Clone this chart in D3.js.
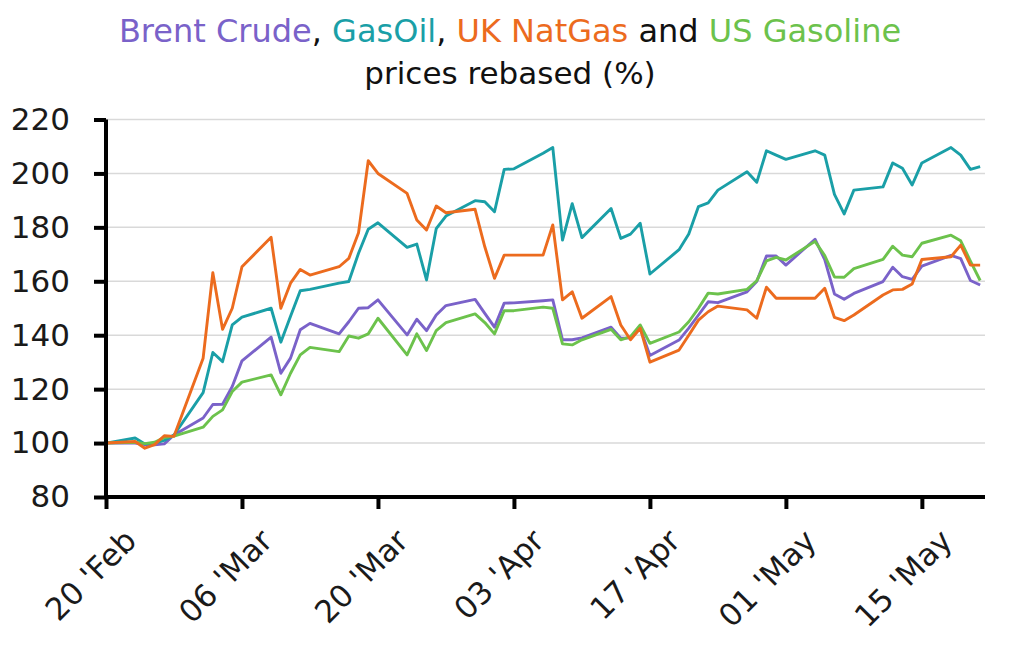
<!DOCTYPE html>
<html>
<head>
<meta charset="utf-8">
<title>Brent Crude, GasOil, UK NatGas and US Gasoline prices rebased</title>
<script src="https://cdn.jsdelivr.net/npm/d3@7"></script>
<style>
body { margin: 0; background: #fff; }
svg { display: block; font-family: "DejaVu Sans", sans-serif; }
.grid line { stroke: #d9d9d9; stroke-width: 1.5; }
.axis path, .axis line { stroke: #000; stroke-width: 4; }
.axis text { fill: #1a1a1a; font-size: 31px; font-family: "DejaVu Sans", sans-serif; }
.series { fill: none; stroke-width: 2.9; stroke-linejoin: round; }
</style>
</head>
<body>
<script>
// dates as they sit against the axis (weekday quotes only)
var dates = ["2022-02-20",
  "2022-02-23","2022-02-24","2022-02-25","2022-02-26","2022-02-27",
  "2022-03-02","2022-03-03","2022-03-04","2022-03-05","2022-03-06",
  "2022-03-09","2022-03-10","2022-03-11","2022-03-12","2022-03-13",
  "2022-03-16","2022-03-17","2022-03-18","2022-03-19","2022-03-20",
  "2022-03-23","2022-03-24","2022-03-25","2022-03-26","2022-03-27",
  "2022-03-30","2022-03-31","2022-04-01","2022-04-02","2022-04-03",
  "2022-04-06","2022-04-07","2022-04-08","2022-04-09","2022-04-10",
  "2022-04-13","2022-04-14","2022-04-15","2022-04-16","2022-04-17",
  "2022-04-20","2022-04-21","2022-04-22","2022-04-23","2022-04-24",
  "2022-04-27","2022-04-28","2022-04-29","2022-04-30","2022-05-01",
  "2022-05-04","2022-05-05","2022-05-06","2022-05-07","2022-05-08",
  "2022-05-11","2022-05-12","2022-05-13","2022-05-14","2022-05-15",
  "2022-05-18","2022-05-19","2022-05-20","2022-05-21"];

var brent = [100,
  100,99.4,99.4,99.7,103,
  109.3,114.3,114.4,121,130.5,
  139.3,125.9,131.5,142,144.4,
  140.5,145,150,150.2,153.1,
  140.1,145.9,141.7,147.5,151,
  153.3,148.1,143,151.9,152,
  152.8,153.1,138.3,138.3,139,
  143,138.9,139,142.6,132.5,
  138.2,142.6,147.5,152.4,152.1,
  156.1,159.9,169.4,169.4,166,
  175.6,168,155.3,153.3,155.5,
  159.9,165.2,161.7,160.7,165.6,
  169.6,168.4,160.3,158.6];

var gasoil = [100,
  101.9,99.7,100,101,103,
  118.7,133.6,130.2,143.8,146.7,
  150,137.4,147,156.5,157,
  159.3,159.9,170.4,179.3,181.7,
  172.6,173.8,160.5,179.5,184.2,
  189.9,189.5,185.8,201.5,201.7,
  207.5,209.6,175.3,188.8,176.2,
  187,175.9,177.5,181.5,162.7,
  171.7,177.5,187.7,189.1,193.8,
  200.6,196.7,208.4,206.8,205.2,
  208.4,206.8,192.2,185,193.8,
  195,203.9,201.9,195.7,203.9,
  209.6,206.8,201.5,202.5];

var natgas = [100,
  100.6,98.1,99.4,102.7,102.5,
  131.5,163.2,142.2,150,165.4,
  176.3,150,159.3,164.4,162.3,
  165.4,168.5,178,204.7,200,
  192.6,182.7,179,187.9,185.4,
  186.7,172.8,161.1,169.7,169.7,
  169.7,180.9,153.1,156.1,146.3,
  154.3,143.8,138.3,142.6,130,
  134.5,140,145.6,148.7,150.8,
  149.4,146.3,157.8,153.7,153.7,
  153.7,157.4,146.6,145.4,147.5,
  154.9,156.8,157,159,168.1,
  169.1,173.4,166,166];

var gasoline = [100,
  100.3,99.8,100.3,102,102.6,
  105.9,109.9,112.3,119.1,122.6,
  125.3,117.9,125.9,132.7,135.5,
  133.9,139.7,138.9,140.5,146.3,
  132.7,140.5,134.3,141.7,144.7,
  147.9,144.7,140.5,149.1,149.1,
  150.4,150,136.8,136.4,138.3,
  142.2,138.3,139.5,143.8,137,
  141.2,145,150,155.6,155.3,
  157,160.2,167.6,168.9,167.9,
  174.8,169.5,161.6,161.5,164.7,
  168.1,173,169.7,169.1,174.1,
  177.1,175,167.5,160.3];

var seriesNames = ["Brent Crude", "GasOil", "UK NatGas", "US Gasoline"];
var seriesColors = ["#7a62c9", "#1a9fa7", "#ec6b1e", "#6cc24c"];
var yTicks = [80, 100, 120, 140, 160, 180, 200, 220];
var xTickDates = ["2022-02-20","2022-03-06","2022-03-20","2022-04-03","2022-04-17","2022-05-01","2022-05-15"];

var width = 1024, height = 645;
var parse = d3.utcParse("%Y-%m-%d");
var fmt = d3.utcFormat("%d '%b");

var x = d3.scaleUtc()
    .domain([parse("2022-02-20"), d3.utcHour.offset(parse("2022-05-21"), 12)])
    .range([106, 985]);

var y = d3.scaleLinear()
    .domain([80, 220])
    .range([497, 119.5]);

var svg = d3.select("body").append("svg")
    .attr("width", width)
    .attr("height", height);

// title
var title = svg.append("text")
    .attr("x", 510)
    .attr("y", 42)
    .attr("text-anchor", "middle")
    .style("font-size", "32px")
    .style("fill", "#111");
var parts = [[seriesNames[0], seriesColors[0]], [", ", "#111"], [seriesNames[1], seriesColors[1]], [", ", "#111"],
             [seriesNames[2], seriesColors[2]], [" and ", "#111"], [seriesNames[3], seriesColors[3]]];
parts.forEach(function(p) {
  title.append("tspan").style("fill", p[1]).text(p[0]);
});
svg.append("text")
    .attr("x", 510)
    .attr("y", 84)
    .attr("text-anchor", "middle")
    .style("font-size", "31px")
    .style("fill", "#111")
    .text("prices rebased (%)");

// gridlines
svg.append("g")
    .attr("class", "grid")
  .selectAll("line")
    .data(yTicks.slice(1))
  .enter().append("line")
    .attr("x1", 106)
    .attr("x2", 985)
    .attr("y1", function(d) { return y(d); })
    .attr("y2", function(d) { return y(d); });

// lines
var rows = dates.map(function(d, i) {
  return {date: parse(d), values: [brent[i], gasoil[i], natgas[i], gasoline[i]]};
});

[0, 1, 3, 2].forEach(function(k) {
  var line = d3.line()
      .x(function(d) { return x(d.date); })
      .y(function(d) { return y(d.values[k]); });
  svg.append("path")
      .datum(rows)
      .attr("class", "series")
      .attr("d", line)
      .style("stroke", seriesColors[k]);
});

// axes
var yAxis = d3.axisLeft(y).tickValues(yTicks).tickSize(12).tickPadding(24);
svg.append("g")
    .attr("class", "axis")
    .attr("transform", "translate(106,0)")
    .call(yAxis)
    .call(function(g) { g.select(".domain").attr("d", "M0," + y(220) + "V" + (y(80) + 2)); });

var xAxis = d3.axisBottom(x)
    .tickValues(xTickDates.map(parse))
    .tickFormat(fmt)
    .tickSize(12)
    .tickSizeOuter(0);
svg.append("g")
    .attr("class", "axis")
    .attr("transform", "translate(0," + y(80) + ")")
    .call(xAxis)
    .call(function(g) { g.select(".domain").attr("d", "M104,0H985"); })
  .selectAll("text")
    .attr("text-anchor", "end")
    .attr("transform", "translate(24,38) rotate(-45)")
    .attr("dy", "0.35em")
    .attr("y", 0)
    .attr("x", 0);
</script>
</body>
</html>
